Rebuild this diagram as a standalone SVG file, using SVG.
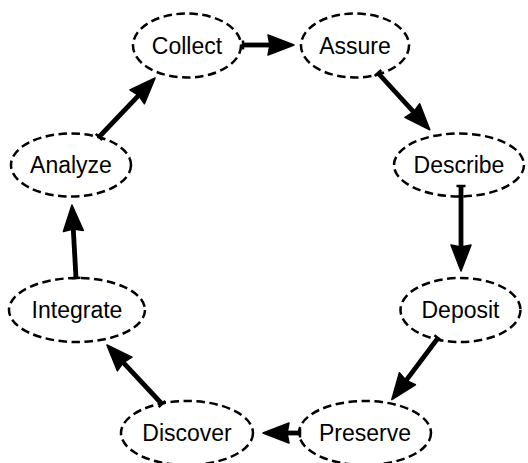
<svg xmlns="http://www.w3.org/2000/svg" width="528" height="463" viewBox="0 0 528 463">
<defs>
<marker id="head" markerUnits="userSpaceOnUse" markerWidth="28" markerHeight="22" refX="7" refY="10" orient="auto" overflow="visible">
<path d="M0,0 L26,10 L0,20 L2,10 z" fill="#000" stroke="#000" stroke-width="1.5" stroke-linejoin="round"/>
</marker>
<marker id="bar" markerUnits="userSpaceOnUse" markerWidth="4" markerHeight="10" refX="1.25" refY="4.5" orient="auto" overflow="visible">
<rect x="0" y="0" width="2.5" height="9" fill="#000"/>
</marker>
</defs>
<style>
.node ellipse{fill:none;stroke:#000;stroke-width:2.5;stroke-dasharray:8.5 4.5}
.node text{font-family:"Liberation Sans",Arial,Helvetica,sans-serif;font-size:23px;fill:#000;text-anchor:middle}
.edges line{stroke:#000;stroke-width:4.8;marker-end:url(#head);marker-start:url(#bar)}
</style>
<rect width="528" height="463" fill="#fff"/>
<g class="edges">
<line x1="243" y1="45" x2="275" y2="45"/>
<line x1="378" y1="73" x2="417" y2="115.7"/>
<line x1="461" y1="186" x2="461" y2="252"/>
<line x1="438" y1="338" x2="403.2" y2="384.4"/>
<line x1="300" y1="433" x2="282" y2="433"/>
<line x1="162" y1="404" x2="119.9" y2="358.9"/>
<line x1="76" y1="278" x2="73" y2="224"/>
<line x1="99" y1="137" x2="142" y2="91.8"/>
</g>
<g id="collect" class="node"><ellipse cx="187" cy="45.5" rx="54" ry="32"/><text x="187" y="53.5">Collect</text></g>
<g id="assure" class="node"><ellipse cx="355" cy="45.5" rx="54" ry="32"/><text x="355" y="53.5">Assure</text></g>
<g id="describe" class="node"><ellipse cx="459" cy="165" rx="65" ry="31.5"/><text x="459" y="173">Describe</text></g>
<g id="deposit" class="node"><ellipse cx="460.5" cy="310" rx="60" ry="32"/><text x="460.5" y="318">Deposit</text></g>
<g id="preserve" class="node"><ellipse cx="365" cy="433" rx="66" ry="32"/><text x="365" y="441">Preserve</text></g>
<g id="discover" class="node"><ellipse cx="187" cy="433" rx="66" ry="32"/><text x="187" y="441">Discover</text></g>
<g id="integrate" class="node"><ellipse cx="77" cy="310" rx="68" ry="32"/><text x="77" y="318">Integrate</text></g>
<g id="analyze" class="node"><ellipse cx="71" cy="165" rx="60" ry="31.5"/><text x="71" y="173">Analyze</text></g>
</svg>
